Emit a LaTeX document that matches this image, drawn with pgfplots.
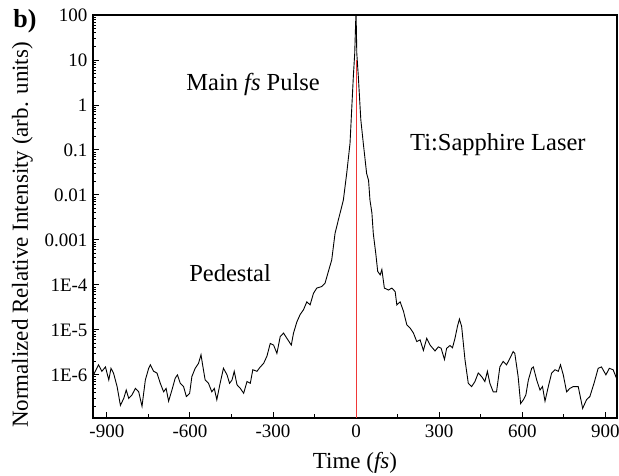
\documentclass[border=0pt]{standalone}
\usepackage{pgfplots}
\pgfplotsset{compat=1.18}
\usepackage{fontspec}
\setmainfont{Liberation Serif}
\definecolor{pulsered}{RGB}{240,55,55}

\begin{document}
\begin{tikzpicture}
\begin{axis}[
  name=ax,
  scale only axis,
  width=524pt, height=403pt,
  xmin=-950, xmax=942,
  ymode=log, ymin=1.1e-7, ymax=100,
  xtick={-900,-600,-300,0,300,600,900},
  xticklabels={-900,-600,-300,0,300,600,900},
  minor xtick={-750,-450,-150,150,450,750},
  ytick={1e-6,1e-5,1e-4,1e-3,1e-2,1e-1,1,10,100},
  yticklabels={1E-6,1E-5,1E-4,0.001,0.01,0.1,1,10,100},
  minor ytick={2e-7,3e-7,4e-7,5e-7,6e-7,7e-7,8e-7,9e-7,
    2e-6,3e-6,4e-6,5e-6,6e-6,7e-6,8e-6,9e-6,
    2e-5,3e-5,4e-5,5e-5,6e-5,7e-5,8e-5,9e-5,
    2e-4,3e-4,4e-4,5e-4,6e-4,7e-4,8e-4,9e-4,
    2e-3,3e-3,4e-3,5e-3,6e-3,7e-3,8e-3,9e-3,
    0.02,0.03,0.04,0.05,0.06,0.07,0.08,0.09,
    0.2,0.3,0.4,0.5,0.6,0.7,0.8,0.9,
    2,3,4,5,6,7,8,9,
    20,30,40,50,60,70,80,90},
  tick align=inside,
  tick pos=left,
  major tick length=6pt,
  minor tick length=3.5pt,
  axis line style={line width=1.3pt},
  every tick/.style={black, line width=0.9pt},
  tick label style={font=\fontsize{19}{21}\selectfont},
  xticklabel style={yshift=-3pt},
  yticklabel style={xshift=-2pt},
  /pgf/number format/assume math mode=true,
  xlabel={Time (\textit{fs})},
  ylabel={Normalized Relative Intensity (arb. units)},
  label style={font=\fontsize{23}{25}\selectfont},
  xlabel style={at={(axis description cs:0.5,-0.112)}, anchor=center},
  ylabel style={at={(axis description cs:-0.135,0.454)}, anchor=center},
  clip mode=individual,
]
\addplot[black, line width=0.9pt] table {
x y
-948 1.0e-6
-930 1.67e-6
-918 1.2e-6
-905 1.5e-6
-893 7.7e-7
-885 1.4e-6
-876 1.1e-6
-863 5.5e-7
-851 2.1e-7
-839 3.0e-7
-830 4.6e-7
-821 3.0e-7
-809 3.6e-7
-797 5.0e-7
-785 4.2e-7
-773 2.0e-7
-761 7.7e-7
-749 1.4e-6
-743 1.67e-6
-731 1.2e-6
-719 1.1e-6
-707 6.5e-7
-695 4.2e-7
-686 5.0e-7
-677 2.6e-7
-665 4.6e-7
-653 8.5e-7
-645 1.0e-6
-635 6.5e-7
-623 5.5e-7
-613 3.3e-7
-601 3.9e-7
-593 9.2e-7
-581 1.4e-6
-569 1.8e-6
-560 2.8e-6
-553 1.5e-6
-545 7.7e-7
-533 6.5e-7
-521 4.2e-7
-512 5.0e-7
-503 2.8e-7
-491 6.5e-7
-479 1.4e-6
-466 1.0e-6
-457 6.5e-7
-448 7.7e-7
-440 1.2e-6
-430 6.0e-7
-418 5.0e-7
-406 3.9e-7
-394 7.1e-7
-382 6.5e-7
-373 1.3e-6
-358 1.2e-6
-346 1.5e-6
-334 1.8e-6
-322 2.6e-6
-310 5.0e-6
-298 4.6e-6
-286 3.0e-6
-274 7.1e-6
-262 8.5e-6
-250 6.5e-6
-234 4.6e-6
-226 8.5e-6
-214 1.5e-5
-202 2.2e-5
-190 2.8e-5
-178 4.2e-5
-166 3.6e-5
-154 6.5e-5
-142 8.5e-5
-124 9.2e-5
-112 1.1e-4
-100 2.0e-4
-88 3.6e-4
-76 1.4e-3
-64 2.8e-3
-52 5.5e-3
-46 7.7e-3
-34 0.030
-22 0.14
-16 0.78
-10 4.3
-5 14
-1 92
0 100
2.5 14
8 4.3
17 0.47
26 0.14
38 0.030
45 0.021
50 7.7e-3
57 4.0e-3
62 1.4e-3
71 5.0e-4
78 2.0e-4
87 1.67e-4
93 2.2e-4
102 8.5e-5
117 7.7e-5
129 8.5e-5
141 7.1e-5
147 3.6e-5
159 4.2e-5
171 2.6e-5
183 1.3e-5
195 1.1e-5
207 8.5e-6
219 5.5e-6
231 6.0e-6
243 3.5e-6
255 6.5e-6
267 4.6e-6
285 3.4e-6
297 4.2e-6
307 3.9e-6
319 2.2e-6
327 3.9e-6
339 4.5e-6
348 4.0e-6
357 6.5e-6
366 1.2e-5
373 1.74e-5
381 1.2e-5
393 2.2e-6
405 6.5e-7
417 5.5e-7
429 7.1e-7
441 1.1e-6
453 9.2e-7
465 7.1e-7
474 1.2e-6
483 6.5e-7
495 4.2e-7
507 4.2e-7
519 1.5e-6
531 2.0e-6
543 1.67e-6
555 2.3e-6
567 3.3e-6
573 3.0e-6
585 9.2e-7
594 2.3e-7
604 2.8e-7
613 3.6e-7
622 7.7e-7
634 1.4e-6
640 1.5e-6
652 7.7e-7
664 4.6e-7
673 5.5e-7
682 2.6e-7
694 5.5e-7
706 1.1e-6
718 1.3e-6
730 1.2e-6
738 1.67e-6
748 1.0e-6
760 4.2e-7
772 5.0e-7
784 5.5e-7
802 5.5e-7
818 1.8e-7
832 2.8e-7
844 3.3e-7
859 6.5e-7
874 1.4e-6
886 1.5e-6
902 1.0e-6
914 1.4e-6
928 1.3e-6
940 8.5e-7
};
\addplot[pulsered, line width=1.2pt] coordinates {(0,1.1e-7) (0,10)};
\node[font=\fontsize{24.5}{26}\selectfont] at (axis cs:-372,2.9) {Main \textit{fs} Pulse};
\node[font=\fontsize{24.5}{26}\selectfont] at (axis cs:512,0.13) {Ti:Sapphire Laser};
\node[font=\fontsize{24.5}{26}\selectfont] at (axis cs:-455,1.85e-4) {Pedestal};
\node[font=\bfseries\fontsize{26}{28}\selectfont] at (rel axis cs:-0.13,0.985) {b)};
\end{axis}
\pgfresetboundingbox
\path[use as bounding box] ([shift={(-93pt,-58pt)}]ax.south west) rectangle ([shift={(2pt,15pt)}]ax.north east);
\end{tikzpicture}
\end{document}
